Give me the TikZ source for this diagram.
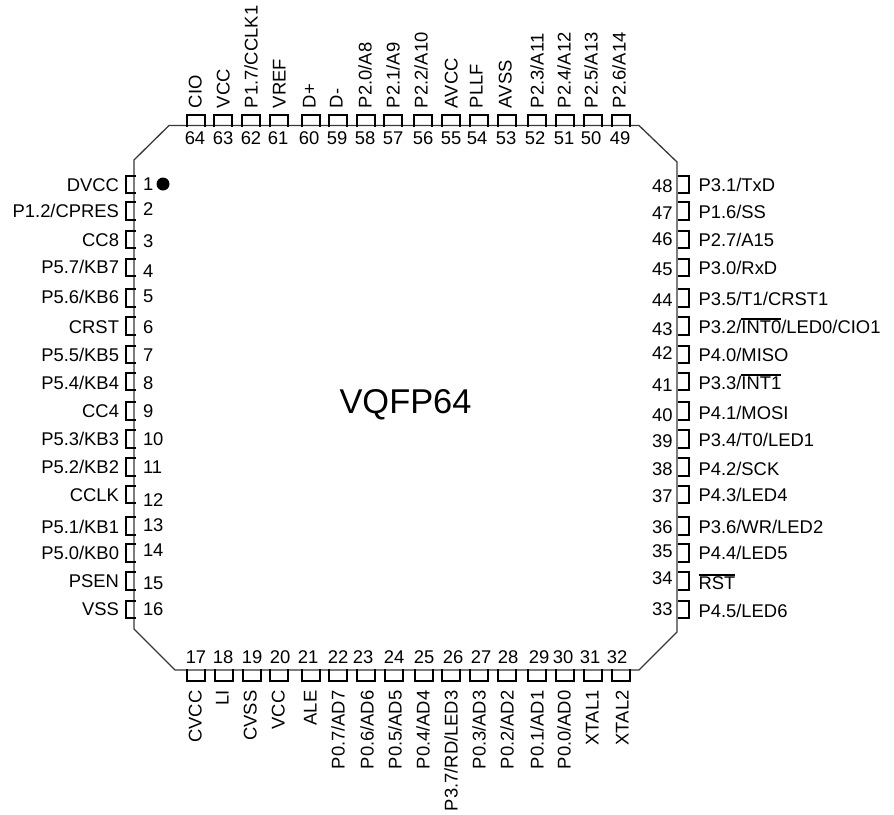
\documentclass[tikz,border=0pt]{standalone}
\usepackage{fontspec}
\setmainfont{Liberation Sans}
\newcommand\ovl[1]{\leavevmode\setbox0\hbox{#1}\rlap{\vrule height 0.83em depth -0.76em width \wd0}\box0 }
\tikzset{
  body/.style={draw=black!78,line width=1.3pt,line join=miter},
  pin/.style={draw=black,line width=2pt,line cap=butt,line join=miter},
  txt/.style={inner sep=0pt,outer sep=0pt,text=black,font=\fontsize{18.4pt}{20pt}\selectfont},
  lbl/.style={txt},
  dot/.style={circle,fill=black,draw=none,minimum size=13pt,inner sep=0pt},
  title/.style={inner sep=0pt,text=black,font=\fontsize{34.4pt}{38pt}\selectfont},
}
% #1 number, #2 pin centre, #3 label centre, #4 number centre, #5 text
\newcommand\PinLeft[5]{%
  \draw[pin] (136,#2-8.7) -- (126,#2-8.7) -- (126,#2+8.7) -- (136,#2+8.7);
  \node[lbl,anchor=base east] (L#1) at (119,#3+6.5) {#5};
  \node[txt,anchor=base west] (NL#1) at (143,#4+6.5) {#1};}
\newcommand\PinRight[5]{%
  \draw[pin] (678,#2-8.7) -- (689,#2-8.7) -- (689,#2+8.7) -- (678,#2+8.7);
  \node[lbl,anchor=base west] (R#1) at (698.5,#3+6.5) {#5};
  \node[txt,anchor=base east] (NR#1) at (672.5,#4+6.5) {#1};}
\newcommand\PinTop[5]{%
  \draw[pin] (#2-9,127) -- (#2-9,115.3) -- (#2+9,115.3) -- (#2+9,127);
  \node[lbl,rotate=90,anchor=base west] (T#1) at (#3+6.5,108) {#5};
  \node[txt,anchor=base] (NT#1) at (#4,138+6.5) {#1};}
\newcommand\PinBottom[5]{%
  \draw[pin] (#2-9,669) -- (#2-9,681) -- (#2+9,681) -- (#2+9,669);
  \node[lbl,rotate=90,anchor=base east] (B#1) at (#3+6.5,690.5) {#5};
  \node[txt,anchor=base] (NB#1) at (#4,657+6.5) {#1};}
\begin{document}
\begin{tikzpicture}[x=1pt,y=-1pt]
\useasboundingbox (0,0) rectangle (894,814);
\draw[body] (169,125.5) -- (639,125.5) -- (677,162) -- (677,632) -- (639,670) -- (175,670) -- (134,629) -- (134,160) -- cycle;
\node[title] (chip) at (405.5,404.5) {VQFP64};
\node[dot] (mark) at (163,184) {};
\PinLeft{1}{184.5}{184.7}{184}{DVCC}
\PinLeft{2}{211}{210.7}{209}{P1.2/CPRES}
\PinLeft{3}{239.5}{240}{241}{CC8}
\PinLeft{4}{267.5}{267}{271}{P5.7/KB7}
\PinLeft{5}{298}{297}{296}{P5.6/KB6}
\PinLeft{6}{326}{327}{327}{CRST}
\PinLeft{7}{354.5}{355}{355}{P5.5/KB5}
\PinLeft{8}{381.5}{383}{383}{P5.4/KB4}
\PinLeft{9}{411}{411}{411}{CC4}
\PinLeft{10}{439}{439}{439}{P5.3/KB3}
\PinLeft{11}{467}{467}{467}{P5.2/KB2}
\PinLeft{12}{494.5}{495}{500}{CCLK}
\PinLeft{13}{526}{527}{525}{P5.1/KB1}
\PinLeft{14}{553}{553}{550}{P5.0/KB0}
\PinLeft{15}{581}{581}{583}{PSEN}
\PinLeft{16}{609.5}{609}{609}{VSS}
\PinRight{48}{184.5}{184.7}{186}{P3.1/TxD}
\PinRight{47}{211}{212}{213}{P1.6/SS}
\PinRight{46}{239.5}{240}{239}{P2.7/A15}
\PinRight{45}{267.5}{268}{269}{P3.0/RxD}
\PinRight{44}{298}{299}{300}{P3.5/T1/CRST1}
\PinRight{43}{326}{327}{329}{P3.2/\ovl{INT0}/LED0/CIO1}
\PinRight{42}{354.5}{355}{353}{P4.0/MISO}
\PinRight{41}{381.5}{383}{385}{P3.3/\ovl{INT1}}
\PinRight{40}{411}{413}{415}{P4.1/MOSI}
\PinRight{39}{439}{440}{441}{P3.4/T0/LED1}
\PinRight{38}{467}{469}{469}{P4.2/SCK}
\PinRight{37}{494.5}{495}{496}{P4.3/LED4}
\PinRight{36}{526}{527}{527}{P3.6/WR/LED2}
\PinRight{35}{553}{553}{551}{P4.4/LED5}
\PinRight{34}{581}{583}{578}{\ovl{RST}}
\PinRight{33}{609.5}{611}{609}{P4.5/LED6}
\PinTop{64}{195.5}{195}{195}{CIO}
\PinTop{63}{223}{223}{223}{VCC}
\PinTop{62}{251}{251}{251}{P1.7/CCLK1}
\PinTop{61}{279}{279}{278}{VREF}
\PinTop{60}{311}{309}{309}{D+}
\PinTop{59}{338}{336}{337}{D-}
\PinTop{58}{366}{365}{365}{P2.0/A8}
\PinTop{57}{393}{393}{393}{P2.1/A9}
\PinTop{56}{423}{421}{423}{P2.2/A10}
\PinTop{55}{451}{451}{451}{AVCC}
\PinTop{54}{479}{476}{477}{PLLF}
\PinTop{53}{507}{505}{506}{AVSS}
\PinTop{52}{537}{537}{535}{P2.3/A11}
\PinTop{51}{565}{564}{564}{P2.4/A12}
\PinTop{50}{593}{591}{591}{P2.5/A13}
\PinTop{49}{621}{619}{620}{P2.6/A14}
\PinBottom{17}{195.5}{195}{196}{CVCC}
\PinBottom{18}{223.5}{222}{223}{LI}
\PinBottom{19}{251.5}{250}{252}{CVSS}
\PinBottom{20}{278.5}{278}{280}{VCC}
\PinBottom{21}{310.5}{310}{308}{ALE}
\PinBottom{22}{337.5}{338}{338}{P0.7/AD7}
\PinBottom{23}{365.5}{367}{363}{P0.6/AD6}
\PinBottom{24}{393.5}{395}{394}{P0.5/AD5}
\PinBottom{25}{423.5}{423}{424}{P0.4/AD4}
\PinBottom{26}{451}{451}{453}{P3.7/RD/LED3}
\PinBottom{27}{479}{479}{481}{P0.3/AD3}
\PinBottom{28}{507}{507}{508}{P0.2/AD2}
\PinBottom{29}{537}{537}{539}{P0.1/AD1}
\PinBottom{30}{565}{564}{563}{P0.0/AD0}
\PinBottom{31}{593}{592}{590}{XTAL1}
\PinBottom{32}{620.5}{622}{617}{XTAL2}
\end{tikzpicture}
\end{document}
